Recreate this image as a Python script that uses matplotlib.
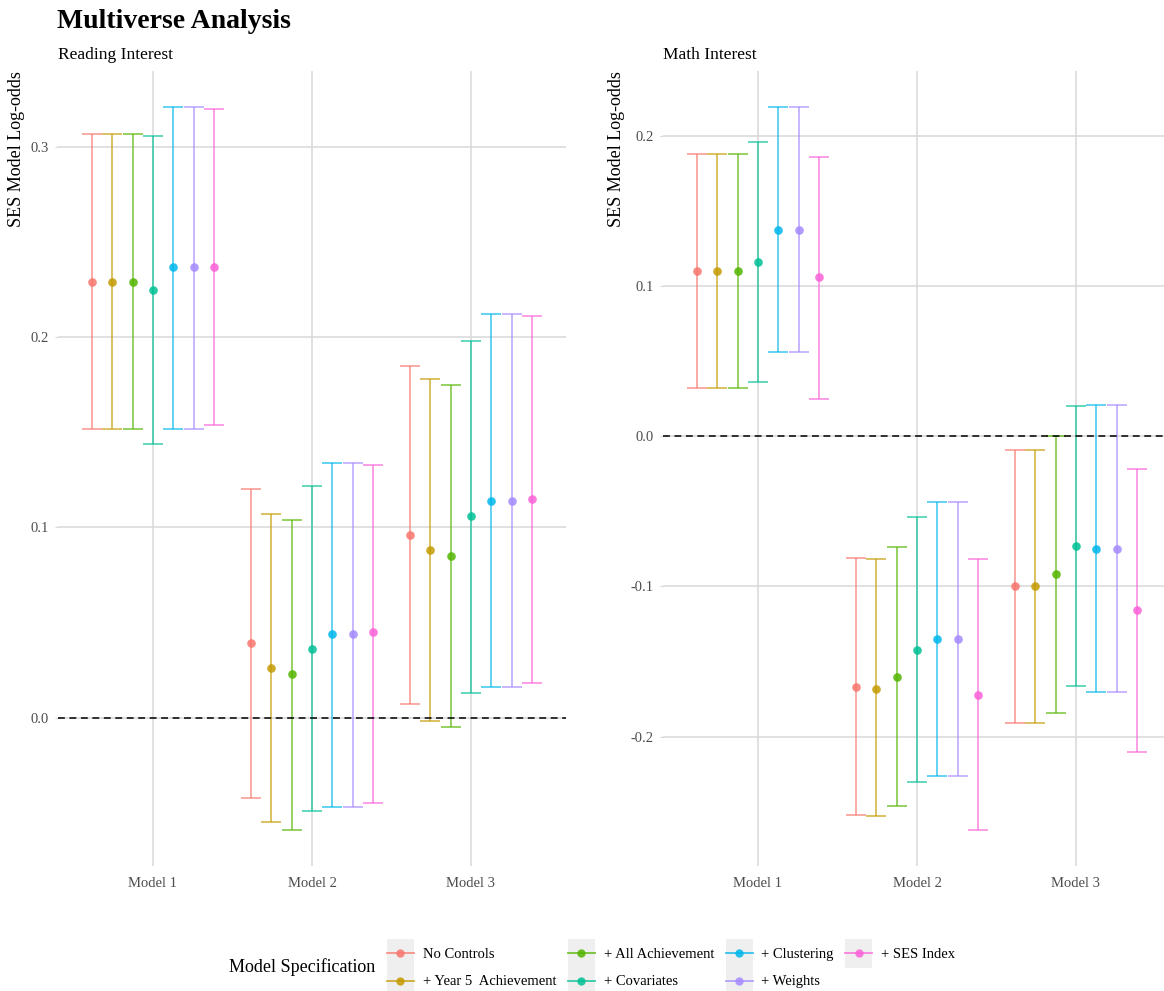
import numpy as np
import matplotlib
matplotlib.use("Agg")
import matplotlib.pyplot as plt
from matplotlib.legend_handler import HandlerBase
from matplotlib.lines import Line2D
from matplotlib.patches import Rectangle

plt.rcParams['font.family'] = ['Liberation Serif', 'DejaVu Serif']
plt.rcParams['axes.unicode_minus'] = False

models = ["Model 1", "Model 2", "Model 3"]
specs = ["No Controls", "+ Year 5  Achievement", "+ All Achievement", "+ Covariates",
         "+ Clustering", "+ Weights", "+ SES Index"]
colors = ["#F8766D", "#C49A00", "#53B400", "#00C094", "#00B6EB", "#A58AFF", "#FB61D7"]

# rows = models, columns = specs
reading_est = [[0.229, 0.229, 0.229, 0.225, 0.237, 0.237, 0.237],
               [0.039, 0.026, 0.023, 0.036, 0.044, 0.044, 0.045],
               [0.096, 0.088, 0.085, 0.106, 0.114, 0.114, 0.115]]
reading_lo = [[0.152, 0.152, 0.152, 0.144, 0.152, 0.152, 0.154],
              [-0.042, -0.055, -0.059, -0.049, -0.047, -0.047, -0.045],
              [0.007, -0.002, -0.005, 0.013, 0.016, 0.016, 0.018]]
reading_hi = [[0.307, 0.307, 0.307, 0.306, 0.321, 0.321, 0.320],
              [0.120, 0.107, 0.104, 0.122, 0.134, 0.134, 0.133],
              [0.185, 0.178, 0.175, 0.198, 0.212, 0.212, 0.211]]

math_est = [[0.110, 0.110, 0.110, 0.116, 0.137, 0.137, 0.106],
            [-0.167, -0.168, -0.160, -0.142, -0.135, -0.135, -0.172],
            [-0.100, -0.100, -0.092, -0.073, -0.075, -0.075, -0.116]]
math_lo = [[0.032, 0.032, 0.032, 0.036, 0.056, 0.056, 0.025],
           [-0.252, -0.253, -0.246, -0.230, -0.226, -0.226, -0.262],
           [-0.191, -0.191, -0.184, -0.166, -0.170, -0.170, -0.210]]
math_hi = [[0.188, 0.188, 0.188, 0.196, 0.219, 0.219, 0.186],
           [-0.081, -0.082, -0.074, -0.054, -0.044, -0.044, -0.082],
           [-0.009, -0.009, 0.000, 0.020, 0.021, 0.021, -0.022]]

reading_ticks = [0.0, 0.1, 0.2, 0.3]
math_ticks = [-0.2, -0.1, 0.0, 0.1, 0.2]

W, H = 1164, 991
GRID = "#D9D9D9"
TICK_COL = "#4D4D4D"
ALPHA = 0.78


class KeyBox(HandlerBase):
    """Grey key square with a horizontal line and a point in its centre."""
    def create_artists(self, legend, orig_handle, xdescent, ydescent,
                       width, height, fontsize, trans):
        x0, y0 = -xdescent, -ydescent - 1
        bh = height + 2
        yc = y0 + bh / 2
        col = orig_handle.get_color()
        box = Rectangle((x0, y0), width, bh, facecolor="#EFEFEF",
                        edgecolor="none", transform=trans)
        line = Line2D([x0, x0 + width], [yc, yc], color=col, lw=1.3,
                      alpha=ALPHA, transform=trans)
        dot = Line2D([x0 + width / 2], [yc], color=col, marker="o", ms=6,
                     mew=0, ls="none", alpha=0.85, transform=trans)
        return [box, line, dot]


def draw_panel(ax, est, lo, hi, ticks, title, xmax):
    est, lo, hi = np.asarray(est), np.asarray(lo), np.asarray(hi)
    n = len(specs)
    slot = 0.9 / n
    base = np.arange(1, len(models) + 1)
    for j, col in enumerate(colors):
        x = base + (j - (n - 1) / 2) * slot
        e = est[:, j]
        ax.errorbar(x, e, yerr=[e - lo[:, j], hi[:, j] - e], fmt="none",
                    ecolor=col, elinewidth=1.1, capsize=7.4, capthick=1.1,
                    alpha=ALPHA, zorder=3)
        ax.plot(x, e, "o", color=col, ms=6.2, mew=0, alpha=0.85, zorder=4)
    ax.axhline(0, color="black", lw=1.1, ls=(0, (4.5, 3)), zorder=5)

    span = hi.max() - lo.min()
    ax.set_ylim(lo.min() - 0.05 * span, hi.max() + 0.05 * span)
    ax.set_xlim(0.4, xmax)
    ax.set_xticks(base)
    ax.set_xticklabels(models)
    ax.set_yticks(ticks)
    ax.set_yticklabels([f"{t:.1f}" for t in ticks])
    ax.grid(True, color=GRID, lw=1.1, zorder=0)
    ax.set_axisbelow(True)
    for s in ax.spines.values():
        s.set_visible(False)
    ax.tick_params(axis="x", length=0, pad=8, labelsize=10.5, labelcolor=TICK_COL)
    ax.tick_params(axis="y", length=2.5, color=GRID, pad=4, labelsize=10.5,
                   labelcolor=TICK_COL)
    ax.set_ylabel("SES Model Log-odds", loc="top", fontsize=13, labelpad=4)
    ax.set_title(title, loc="left", fontsize=12.5, pad=9)


fig = plt.figure(figsize=(W / 100, H / 100), dpi=100)
bottom = 1 - 866 / H
height = 795 / H
ax1 = fig.add_axes([57.6 / W, bottom, 508.8 / W, height])
ax2 = fig.add_axes([662.6 / W, bottom, 501.3 / W, height])

draw_panel(ax1, reading_est, reading_lo, reading_hi, reading_ticks, "Reading Interest", 3.6)
draw_panel(ax2, math_est, math_lo, math_hi, math_ticks, "Math Interest", 3.553)

fig.text(57 / W, 1 - 9 / H, "Multiverse Analysis", fontsize=20, fontweight="bold",
         va="top", ha="left")

handles = [Line2D([], [], color=c) for c in colors]
fig.legend(handles, specs, ncol=4, loc="center left",
           bbox_to_anchor=(387 / W, 1 - 967 / H), frameon=False, fontsize=10.5,
           handlelength=1.85, handleheight=2.4, labelspacing=0.1,
           handletextpad=0.6, columnspacing=0.8, borderpad=0, borderaxespad=0,
           handler_map={Line2D: KeyBox()})
fig.text(229 / W, 1 - 967 / H, "Model Specification", fontsize=13, va="center", ha="left")

fig.savefig("out.png", dpi=100)
